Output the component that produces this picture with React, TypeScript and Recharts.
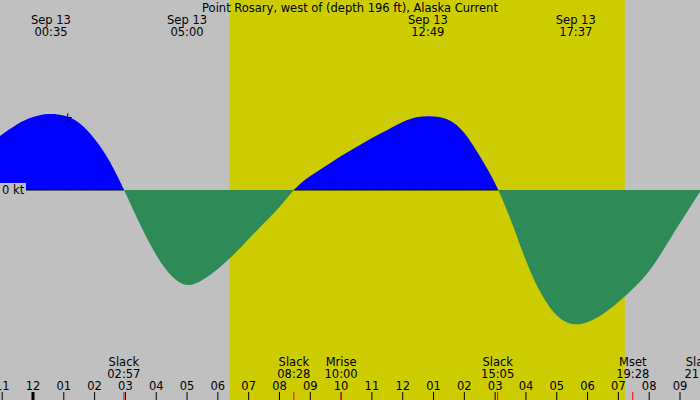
import { ComposedChart, Area, Line, XAxis, YAxis, ReferenceArea, ReferenceLine, ReferenceDot } from 'recharts';

// hours since midnight Sep 13 and current speed in knots (flood +, ebb -)
const hours = [
  -1.071, -0.5, 0, 0.5, 1.0, 1.5, 2.0, 2.5, 3.0, 3.5, 4.0, 4.5, 5.0, 5.5, 6.0, 6.5, 7.0, 7.5, 8.0, 8.5,
  9.0, 9.5, 10.0, 10.5, 11.0, 11.5, 12.0, 12.5, 13.0, 13.5, 14.0, 14.5, 15.0,
  15.5, 16.0, 16.5, 17.0, 17.5, 18.0, 18.5, 19.0, 19.5, 20.0, 20.5, 21.0, 21.683,
];
const speed = [
  1.08, 1.32, 1.46, 1.52, 1.49, 1.34, 1.02, 0.56, -0.06, -0.72, -1.3, -1.72, -1.9, -1.8, -1.58, -1.3, -0.98, -0.66, -0.34, 0.02,
  0.28, 0.48, 0.68, 0.86, 1.04, 1.2, 1.36, 1.46, 1.47, 1.4, 1.14, 0.68, 0.13,
  -0.59, -1.41, -2.08, -2.51, -2.68, -2.64, -2.48, -2.24, -1.96, -1.62, -1.16, -0.66, 0,
];

const slackHours = [2.95, 8.467, 15.083];

const maxHours = [0.583, 5.0, 12.817, 17.617];
const maxLabels = ['00:35', '05:00', '12:49', '17:37'];

const eventHours = [2.95, 8.467, 10.0, 15.083, 19.467, 21.683];
const eventNames = ['Slack', 'Slack', 'Mrise', 'Slack', 'Mset', 'Slack'];
const eventTimes = ['02:57', '08:28', '10:00', '15:05', '19:28', '21:41'];

const hourTicks = [-1, 0, 1, 2, 3, 4, 5, 6, 7, 8, 9, 10, 11, 12, 13, 14, 15, 16, 17, 18, 19, 20, 21];

const sunrise = 6.386;
const sunset = 19.21;
const nowMark = [1.127, 1.45];

const data = [
  ...hours.map((h, i) => ({ h, speed: speed[i] as number | null, zero: speed[i] >= 0 ? 0 : null })),
  ...slackHours.map((h) => ({ h, speed: null, zero: 0 })),
].sort((a, b) => a.h - b.h);

const FONT = '"DejaVu Sans", sans-serif';
const FS = 11.5;

const vMax = Math.max(...speed);
const vMin = Math.min(...speed);
const splitOff = vMax / (vMax - vMin);

const hourLabel = (h: number) => {
  const v = ((h % 12) + 12) % 12 || 12;
  return String(v).padStart(2, '0');
};

export default function App() {
  return (
    <div style={{ position: 'absolute', left: 0, top: 0, width: 700, height: 400, background: '#c0c0c0' }}>
      <ComposedChart width={700} height={400} data={data} margin={{ top: 0, right: 0, bottom: 0, left: 0 }}>
        <defs>
          <linearGradient id="split" x1="0" y1="0" x2="0" y2="1">
            <stop offset={splitOff} stopColor="#0000ff" />
            <stop offset={splitOff} stopColor="#2e8b57" />
          </linearGradient>
        </defs>
        <XAxis type="number" dataKey="h" domain={[-1.071, 21.649]} allowDataOverflow hide />
        <YAxis type="number" domain={[-4.2, 3.8]} allowDataOverflow hide />
        <ReferenceArea x1={sunrise} x2={sunset} fill="#cccc00" fillOpacity={1} stroke="none" ifOverflow="visible" />
        <Area
          type="natural"
          dataKey="speed"
          baseValue={0}
          connectNulls
          stroke="none"
          fill="url(#split)"
          fillOpacity={1}
          isAnimationActive={false}
          dot={false}
          activeDot={false}
        />
        <Line
          type="linear"
          dataKey="zero"
          stroke="#000"
          strokeWidth={1}
          dot={false}
          activeDot={false}
          connectNulls={false}
          isAnimationActive={false}
        />
        <ReferenceLine
          y={0}
          stroke="none"
          ifOverflow="visible"
          label={(p: any) => (
            <g>
              <rect x={0} y={p.viewBox.y - 7} width={26} height={13} fill="#c0c0c0" />
              <text x={2} y={p.viewBox.y + 4} fontSize={FS} fontFamily={FONT} fill="#000">0 kt</text>
            </g>
          )}
        />
        {hourTicks.map((h) => (
          <ReferenceLine
            key={'h' + h}
            x={h}
            stroke="none"
            ifOverflow="visible"
            label={(p: any) => (
              <g>
                <text x={p.viewBox.x} y={390} textAnchor="middle" fontSize={FS} fontFamily={FONT} fill="#000">
                  {hourLabel(h)}
                </text>
                <line x1={p.viewBox.x} x2={p.viewBox.x} y1={392} y2={400} stroke="#000" strokeWidth={h % 24 === 0 ? 3 : 1} />
              </g>
            )}
          />
        ))}
        {maxHours.map((h, i) => (
          <ReferenceLine
            key={'m' + i}
            x={h}
            stroke="none"
            ifOverflow="visible"
            label={(p: any) => (
              <text x={p.viewBox.x} y={24} textAnchor="middle" fontSize={FS} fontFamily={FONT} fill="#000">
                <tspan x={p.viewBox.x} y={24}>Sep 13</tspan>
                <tspan x={p.viewBox.x} y={36}>{maxLabels[i]}</tspan>
              </text>
            )}
          />
        ))}
        {eventHours.map((h, i) => (
          <ReferenceLine
            key={'e' + i}
            x={h}
            stroke="none"
            ifOverflow="visible"
            label={(p: any) => (
              <g>
                <text x={p.viewBox.x} y={366} textAnchor="middle" fontSize={FS} fontFamily={FONT} fill="#000">
                  <tspan x={p.viewBox.x} y={366}>{eventNames[i]}</tspan>
                  <tspan x={p.viewBox.x} y={378}>{eventTimes[i]}</tspan>
                </text>
                <line x1={p.viewBox.x} x2={p.viewBox.x} y1={392} y2={400} stroke="#ff0000" strokeWidth={1} />
              </g>
            )}
          />
        ))}
        <ReferenceDot
          x={nowMark[0]}
          y={nowMark[1]}
          ifOverflow="visible"
          shape={(p: any) => (
            <path d={`M${p.cx - 4},${p.cy}H${p.cx + 4}M${p.cx},${p.cy - 4}V${p.cy + 4}`} stroke="#000" strokeWidth={1} />
          )}
        />
      </ComposedChart>
      <svg width={700} height={20} style={{ position: 'absolute', left: 0, top: 0, pointerEvents: 'none' }}>
        <text x={350} y={12} textAnchor="middle" fontSize={FS} fontFamily={FONT} fill="#000">
          Point Rosary, west of (depth 196 ft), Alaska Current
        </text>
      </svg>
    </div>
  );
}
